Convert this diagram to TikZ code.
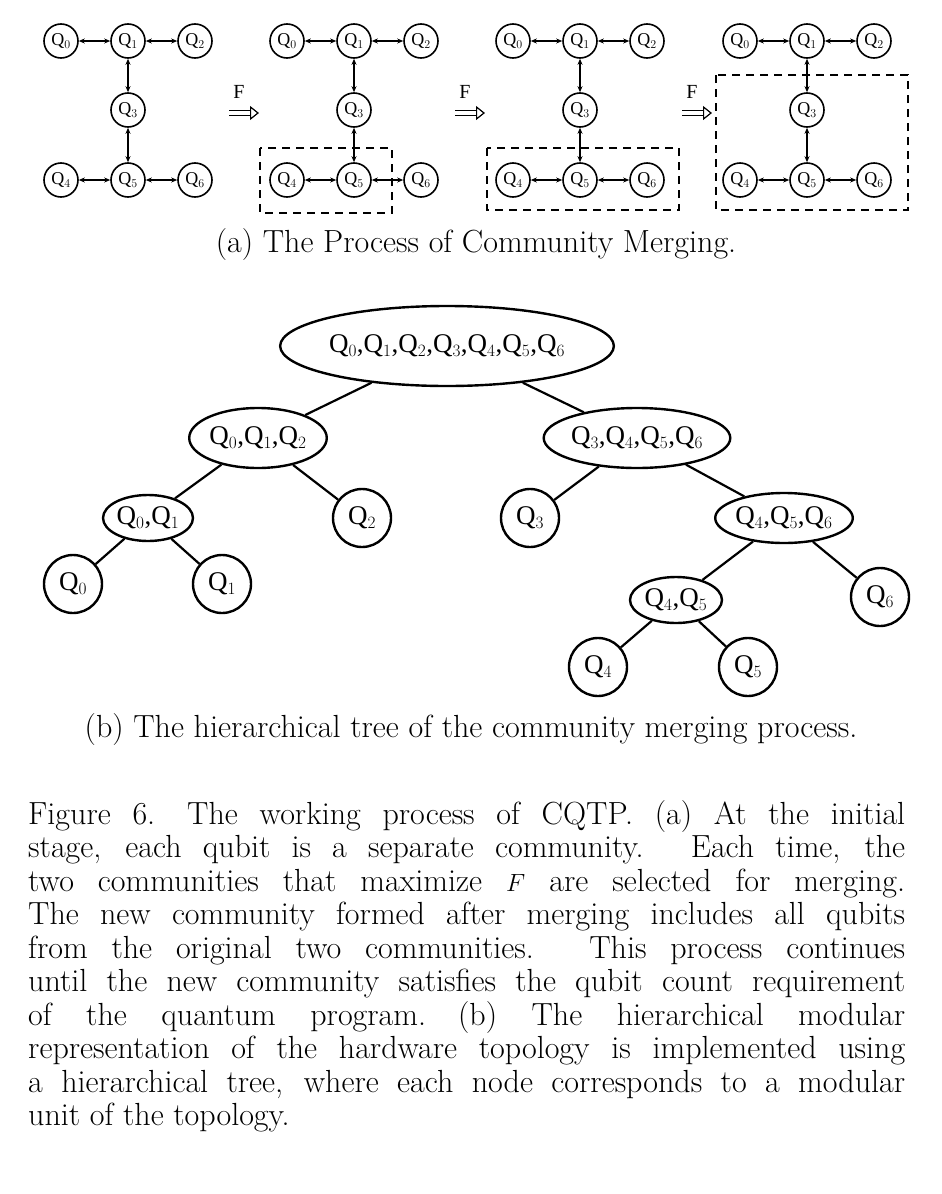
\documentclass[tikz,border=0pt]{standalone}
\usepackage{fontspec}
\newfontfamily\tms{Liberation Serif}
\usetikzlibrary{shapes.geometric,arrows.meta}
\begin{document}
\begin{tikzpicture}[x=1pt,y=-1pt,
 q/.style={circle,draw,line width=1.6pt,minimum size=34pt,inner sep=0pt,font=\tms\fontsize{18}{18}\selectfont},
 ba/.style={{Stealth[length=6pt,width=5pt]}-{Stealth[length=6pt,width=5pt]},line width=1.4pt},
 box/.style={dash pattern=on 8pt off 6pt,line width=2pt},
 tc/.style={circle,draw,line width=2.4pt,minimum size=58pt,inner sep=0pt,font=\tms\fontsize{27}{27}\selectfont},
 te/.style={ellipse,draw,line width=2.4pt,inner sep=0pt,font=\tms\fontsize{27}{27}\selectfont},
 tl/.style={line width=2.2pt},
 captxt/.style={font=\fontsize{32}{36}\selectfont}]
\useasboundingbox (0,0) rectangle (942,1194);
\foreach \i/\dx in {0/0,1/226,2/452,3/679}{
 \begin{scope}[xshift=\dx]
 \node[q] (a\i0) at (61,41) {Q$_0$};
 \node[q] (a\i1) at (128,41) {Q$_1$};
 \node[q] (a\i2) at (195,41) {Q$_2$};
 \node[q] (a\i3) at (128,110) {Q$_3$};
 \node[q] (a\i4) at (61,180) {Q$_4$};
 \node[q] (a\i5) at (128,180) {Q$_5$};
 \node[q] (a\i6) at (195,180) {Q$_6$};
 \draw[ba] (a\i0)--(a\i1); \draw[ba] (a\i1)--(a\i2);
 \draw[ba] (a\i1)--(a\i3); \draw[ba] (a\i3)--(a\i5);
 \draw[ba] (a\i4)--(a\i5); \draw[ba] (a\i5)--(a\i6);
 \end{scope}}
\foreach \x/\n in {229/1,455/2,682/3}{
 \coordinate (s\n) at (\x,113); \coordinate (e\n) at (\x+30,113);
 \draw[-{Triangle[open,length=9pt,width=14pt]},double,double distance=4pt,line width=1.2pt] (s\n)--(e\n);
 \node[font=\tms\fontsize{20}{20}\selectfont] (f\n) at (\x+10,92) {F};}
\draw[box] (260,148) rectangle (392,213);
\draw[box] (487,148) rectangle (679,210);
\draw[box] (716,75) rectangle (908,210);
\node[captxt] (capa) at (476,245) {(a) The Process of Community Merging.};
% tree
\node[te,minimum width=262pt,minimum height=80pt] (r) at (447,346) {Q$_0$,Q$_1$,Q$_2$,Q$_3$,Q$_4$,Q$_5$,Q$_6$};
\node[te,minimum width=130pt,minimum height=60pt] (l) at (258,438) {Q$_0$,Q$_1$,Q$_2$};
\node[te,minimum width=130pt,minimum height=60pt] (rr) at (637,438) {Q$_3$,Q$_4$,Q$_5$,Q$_6$};
\node[te,minimum width=90pt,minimum height=46pt] (l01) at (148,518) {Q$_0$,Q$_1$};
\node[tc] (l2) at (362,518) {Q$_2$};
\node[tc] (r3) at (530,518) {Q$_3$};
\node[te,minimum width=128pt,minimum height=50pt] (r456) at (784,518) {Q$_4$,Q$_5$,Q$_6$};
\node[tc] (t0) at (73,584) {Q$_0$};
\node[tc] (t1) at (222,584) {Q$_1$};
\node[te,minimum width=92pt,minimum height=46pt] (r45) at (676,600) {Q$_4$,Q$_5$};
\node[tc] (t6) at (880,597) {Q$_6$};
\node[tc] (t4) at (598,667) {Q$_4$};
\node[tc] (t5) at (748,667) {Q$_5$};
\draw[tl] (r)--(l); \draw[tl] (r)--(rr);
\draw[tl] (l)--(l01); \draw[tl] (l)--(l2);
\draw[tl] (rr)--(r3); \draw[tl] (rr)--(r456);
\draw[tl] (l01)--(t0); \draw[tl] (l01)--(t1);
\draw[tl] (r456)--(r45); \draw[tl] (r456)--(t6);
\draw[tl] (r45)--(t4); \draw[tl] (r45)--(t5);
\node[captxt] (capb) at (471,730) {(b) The hierarchical tree of the community merging process.};
\node[anchor=north west,inner sep=0pt,text width=877pt,align=justify,font=\fontsize{32}{33.5}\selectfont] (txt) at (28,800) {Figure 6.\quad The working process of CQTP. (a) At the initial\linebreak stage, each qubit is a separate community. Each time, the\linebreak two communities that maximize $F$ are selected for merging.\linebreak The new community formed after merging includes all qubits\linebreak from the original two communities. This process continues\linebreak until the new community satisfies the qubit count requirement\linebreak of the quantum program.\quad (b) The hierarchical modular\linebreak representation of the hardware topology is implemented using\linebreak a hierarchical tree, where each node corresponds to a modular\linebreak unit of the topology.};
\end{tikzpicture}
\end{document}
